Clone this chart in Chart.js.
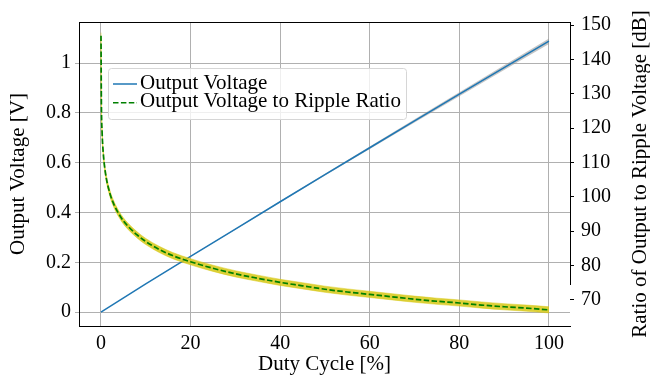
<!DOCTYPE html>
<html>
<head>
<meta charset="utf-8">
<script src="https://cdn.jsdelivr.net/npm/chart.js@4"></script>
<style>
  body { margin: 0; background: #fff; }
  canvas { display: block; }
</style>
</head>
<body>
<canvas id="duty-chart" width="650" height="379"></canvas>
<script>
// output voltage vs duty cycle (left axis, V)
const dutyV = [0, 10, 20, 30, 40, 50, 60, 70, 80, 90, 100];
const voltage = [0, 0.113, 0.224, 0.333, 0.443, 0.552, 0.660, 0.768, 0.875, 0.982, 1.088];
// half width of the grey band round the voltage line
const voltageBand = [0, 0.0005, 0.001, 0.002, 0.003, 0.004, 0.005, 0.0065, 0.008, 0.0095, 0.011];

// output to ripple ratio (right axis, dB)
const dutyR = [0.01, 0.1, 0.25, 0.5, 1, 2, 3, 4, 5, 6, 8, 10, 13, 16, 20, 25, 30, 35, 40, 45, 50, 55, 60, 65, 70, 75, 80, 85, 90, 95, 100];
const ratioDb = [146.9, 127, 119, 113, 107, 101, 97.5, 95, 93, 91.5, 89, 87, 84.7, 82.9, 81.1, 79.2, 77.6, 76.3, 75.1, 74.1, 73.1, 72.3, 71.6, 70.9, 70.2, 69.6, 69.1, 68.5, 68.0, 67.6, 67.1];
// half width of the yellow band round the ratio line, dB
const ratioBand = 0.9;

const xTicks = [0, 20, 40, 60, 80, 100];

const FONT = '"Liberation Serif", "Times New Roman", serif';
const BLUE = '#1f77b4';
const GREEN = '#008000';
const GRID = '#b0b0b0';

const pts = (xs, ys) => xs.map((x, i) => ({ x: x, y: ys[i] }));

const decor = {
  id: 'decor',
  afterDatasetsDraw(chart) {
    const ctx = chart.ctx;
    const a = chart.chartArea;
    ctx.save();
    // top spine and the (cut short) right spine
    ctx.strokeStyle = '#000';
    ctx.lineWidth = 1;
    ctx.beginPath();
    ctx.moveTo(a.left, a.top + 0.5);
    ctx.lineTo(a.right + 1, a.top + 0.5);
    ctx.moveTo(a.right + 0.5, a.top);
    ctx.lineTo(a.right + 0.5, 285);
    ctx.stroke();

    // legend box
    ctx.beginPath();
    ctx.roundRect(108.5, 68.5, 298, 51, 3);
    ctx.fillStyle = 'rgba(255,255,255,0.8)';
    ctx.fill();
    ctx.strokeStyle = '#d6d6d6';
    ctx.stroke();

    ctx.lineWidth = 1.5;
    ctx.strokeStyle = BLUE;
    ctx.beginPath();
    ctx.moveTo(113, 84);
    ctx.lineTo(137, 84);
    ctx.stroke();
    ctx.strokeStyle = GREEN;
    ctx.setLineDash([5.5, 2.4]);
    ctx.beginPath();
    ctx.moveTo(113, 102.7);
    ctx.lineTo(137, 102.7);
    ctx.stroke();
    ctx.setLineDash([]);

    ctx.fillStyle = '#000';
    ctx.font = '21px ' + FONT;
    ctx.textAlign = 'left';
    ctx.textBaseline = 'alphabetic';
    ctx.fillText('Output Voltage', 140, 88.5);
    ctx.fillText('Output Voltage to Ripple Ratio', 140, 107);

    // axis titles
    ctx.font = '21px ' + FONT;
    ctx.textAlign = 'center';
    ctx.textBaseline = 'middle';
    ctx.fillText('Duty Cycle [%]', (a.left + a.right) / 2, 364);
    const midY = (a.top + a.bottom) / 2;
    ctx.save();
    ctx.translate(18, midY);
    ctx.rotate(-Math.PI / 2);
    ctx.fillText('Output Voltage [V]', 0, 0);
    ctx.restore();
    ctx.save();
    ctx.translate(640, midY);
    ctx.rotate(-Math.PI / 2);
    ctx.fillText('Ratio of Output to Ripple Voltage [dB]', 0, 0);
    ctx.restore();
    ctx.restore();
  }
};

new Chart(
  document.getElementById('duty-chart'),
  {
    type: 'line',
    data: {
      datasets: [
        {
          label: 'band upper',
          data: pts(dutyV, voltage.map((v, i) => v + voltageBand[i])),
          yAxisID: 'y',
          borderWidth: 0,
          pointRadius: 0,
          backgroundColor: 'rgba(150,150,150,0.55)',
          fill: '+1',
          order: 6
        },
        {
          label: 'band lower',
          data: pts(dutyV, voltage.map((v, i) => v - voltageBand[i])),
          yAxisID: 'y',
          borderWidth: 0,
          pointRadius: 0,
          fill: false,
          order: 6
        },
        {
          label: 'Output Voltage',
          data: pts(dutyV, voltage),
          yAxisID: 'y',
          borderColor: BLUE,
          borderWidth: 1.5,
          pointRadius: 0,
          fill: false,
          order: 4
        },
        {
          label: 'ratio upper',
          data: pts(dutyR, ratioDb.map(v => v + ratioBand)),
          yAxisID: 'y2',
          borderColor: 'rgba(215,200,20,0.6)',
          borderWidth: 0.8,
          backgroundColor: 'rgba(215,200,20,0.85)',
          pointRadius: 0,
          cubicInterpolationMode: 'monotone',
          fill: '+1',
          order: 3
        },
        {
          label: 'ratio lower',
          data: pts(dutyR, ratioDb.map(v => v - ratioBand)),
          yAxisID: 'y2',
          borderColor: 'rgba(215,200,20,0.6)',
          borderWidth: 0.8,
          pointRadius: 0,
          cubicInterpolationMode: 'monotone',
          fill: false,
          order: 3
        },
        {
          label: 'Output Voltage to Ripple Ratio',
          data: pts(dutyR, ratioDb),
          yAxisID: 'y2',
          borderColor: GREEN,
          borderWidth: 1.7,
          borderDash: [5.5, 2.4],
          pointRadius: 0,
          cubicInterpolationMode: 'monotone',
          fill: false,
          order: 2
        }
      ]
    },
    options: {
      responsive: false,
      devicePixelRatio: 1,
      animation: false,
      layout: { padding: { top: 22, left: 0, right: 0, bottom: 0 } },
      plugins: {
        legend: { display: false },
        tooltip: { enabled: false }
      },
      scales: {
        x: {
          type: 'linear',
          min: -4.9,
          max: 104.7,
          afterFit: s => { s.height = 53; },
          afterBuildTicks: s => { s.ticks = xTicks.map(v => ({ value: v })); },
          grid: { color: GRID, lineWidth: 1, drawTicks: false },
          border: { color: '#000', width: 1 },
          ticks: {
            color: '#000',
            padding: 6,
            maxRotation: 0,
            autoSkip: false,
            font: { family: FONT, size: 20 }
          }
        },
        y: {
          position: 'left',
          min: -0.056,
          max: 1.165,
          afterFit: s => { s.width = 79; },
          grid: { color: GRID, lineWidth: 1, tickLength: 4 },
          border: { color: '#000', width: 1 },
          ticks: {
            stepSize: 0.2,
            includeBounds: false,
            autoSkip: false,
            color: '#000',
            padding: 4,
            font: { family: FONT, size: 20 },
            callback: v => String(Number(v.toFixed(1)))
          }
        },
        y2: {
          position: 'right',
          min: 62.4,
          max: 150.9,
          afterFit: s => { s.width = 80; },
          grid: { drawOnChartArea: false, tickLength: 4, tickColor: '#000' },
          border: { display: false },
          ticks: {
            stepSize: 10,
            includeBounds: false,
            autoSkip: false,
            color: '#000',
            padding: 7,
            font: { family: FONT, size: 20 }
          }
        }
      }
    },
    plugins: [decor]
  }
);
</script>
</body>
</html>
